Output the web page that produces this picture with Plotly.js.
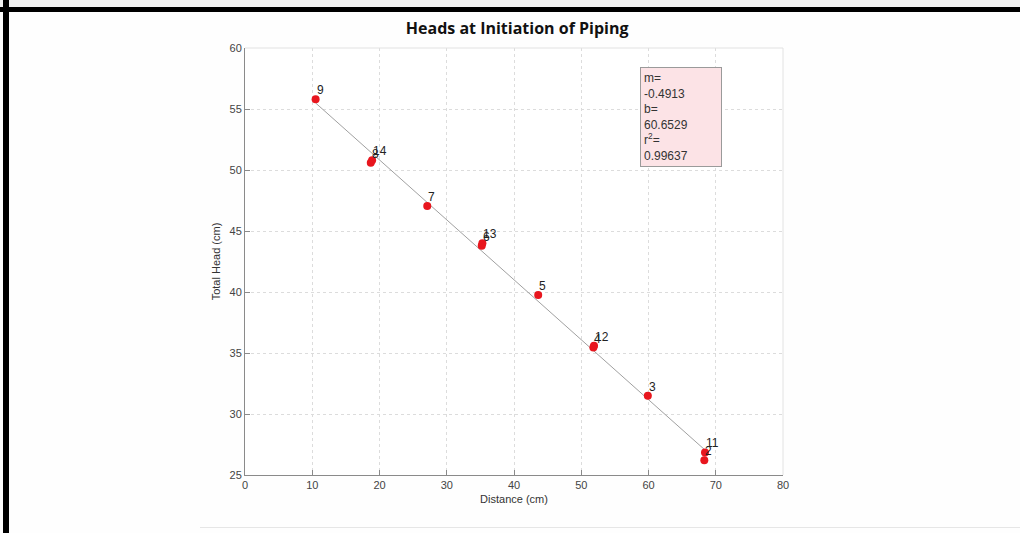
<!DOCTYPE html>
<html>
<head>
<meta charset="utf-8">
<script src="https://cdn.plot.ly/plotly-3.0.1.min.js"></script>
<style>
  html, body { margin: 0; padding: 0; background: #ffffff; }
  #wrap { position: relative; width: 1020px; height: 533px; overflow: hidden; background: #fefefe; }
  #topstrip { position: absolute; left: 0; top: 0; width: 1020px; height: 7px; background: #f3f3f3; }
  #topbar { position: absolute; left: 0; top: 7px; width: 1020px; height: 5px; background: #000; }
  #leftbar { position: absolute; left: 3px; top: 0; width: 6px; height: 533px; background: #000; }
  #bottomline { position: absolute; left: 200px; top: 527px; width: 820px; height: 1px; background: #e6e6e6; }
  #chart { position: absolute; left: 0; top: 0; width: 1020px; height: 533px; }
</style>
</head>
<body>
<div id="wrap">
  <div id="chart"></div>
  <div id="topstrip"></div>
  <div id="topbar"></div>
  <div id="leftbar"></div>
  <div id="bottomline"></div>
</div>
<script>
// Data
const pointLabels = ["9", "8", "14", "7", "6", "13", "5", "4", "12", "3", "11", "2"];
const distance    = [10.5, 18.7, 18.9, 27.1, 35.2, 35.3, 43.6, 51.8, 51.9, 59.9, 68.4, 68.3];
const totalHead   = [55.8, 50.6, 50.8, 47.05, 43.8, 44.0, 39.75, 35.45, 35.6, 31.5, 26.85, 26.2];

// Fit shown in the box
const fitSlope = -0.4913;
const fitIntercept = 60.6529;
const fitR2 = 0.99637;
const fitX = [10.5, 68.4];
const fitY = fitX.map(x => fitSlope * x + fitIntercept);

const xTicks = [0, 10, 20, 30, 40, 50, 60, 70, 80];
const yTicks = [25, 30, 35, 40, 45, 50, 55, 60];

const baseFont = "Liberation Sans, Arial, sans-serif";
const tickFont = {family: baseFont, size: 11, color: "#444"};

const traces = [
  {
    x: fitX, y: fitY, mode: "lines", type: "scatter",
    line: {color: "#a0a0a0", width: 1}, hoverinfo: "skip", showlegend: false
  },
  {
    x: distance, y: totalHead, mode: "markers", type: "scatter",
    marker: {color: "#e8161e", size: 8}, showlegend: false
  }
];

const pointAnnotations = pointLabels.map((lab, i) => ({
  x: distance[i], y: totalHead[i], xref: "x", yref: "y",
  text: lab, showarrow: false, xanchor: "left", yanchor: "bottom",
  xshift: -1, yshift: 0,
  font: {family: baseFont, size: 12, color: "#222"}
}));

const layout = {
  width: 1020, height: 533,
  margin: {l: 245, r: 237, t: 48, b: 58, pad: 0},
  paper_bgcolor: "rgba(0,0,0,0)",
  plot_bgcolor: "#ffffff",
  title: {
    text: "<b>Heads at Initiation of Piping</b>",
    font: {family: "Open Sans, sans-serif", size: 16, color: "#111"},
    x: 0.507, xanchor: "center", y: 0.947, yanchor: "middle"
  },
  xaxis: {
    range: [0, 80], tickvals: xTicks, ticktext: xTicks.map(String),
    showgrid: true, gridcolor: "#dcdcdc", griddash: "dot", gridwidth: 1,
    zeroline: false, showline: true, linecolor: "#8a8a8a", linewidth: 1,
    ticks: "inside", ticklen: 5, tickcolor: "#8a8a8a",
    tickfont: tickFont,
    title: {text: "Distance (cm)", font: {family: baseFont, size: 11, color: "#333"}, standoff: 5}
  },
  yaxis: {
    range: [25, 60], tickvals: yTicks, ticktext: yTicks.map(String),
    showgrid: true, gridcolor: "#dcdcdc", griddash: "dot", gridwidth: 1,
    zeroline: false, showline: true, linecolor: "#8a8a8a", linewidth: 1,
    ticks: "inside", ticklen: 5, tickcolor: "#8a8a8a",
    tickfont: tickFont,
    title: {text: "Total Head (cm)", font: {family: baseFont, size: 11, color: "#333"}, standoff: 6}
  },
  shapes: [
    {type: "line", xref: "paper", yref: "paper", x0: 0, x1: 1, y0: 1, y1: 1, line: {color: "#e2e2e2", width: 1}},
    {type: "line", xref: "paper", yref: "paper", x0: 1, x1: 1, y0: 0, y1: 1, line: {color: "#e2e2e2", width: 1}}
  ],
  annotations: pointAnnotations.concat([
    {
      x: 58.7, y: 58.45, xref: "x", yref: "y", xanchor: "left", yanchor: "top",
      text: "m=<br>" + fitSlope.toFixed(4) + "<br>b=<br>" + fitIntercept.toFixed(4) + "<br>r<sup>2</sup>=<br>" + fitR2.toFixed(5),
      showarrow: false, align: "left",
      font: {family: baseFont, size: 12, color: "#333"},
      bgcolor: "#fce3e6", bordercolor: "#9a9a9a", borderwidth: 1, borderpad: 3,
      width: 74
    }
  ])
};

Plotly.newPlot("chart", traces, layout, {displayModeBar: false, staticPlot: true});
</script>
</body>
</html>
